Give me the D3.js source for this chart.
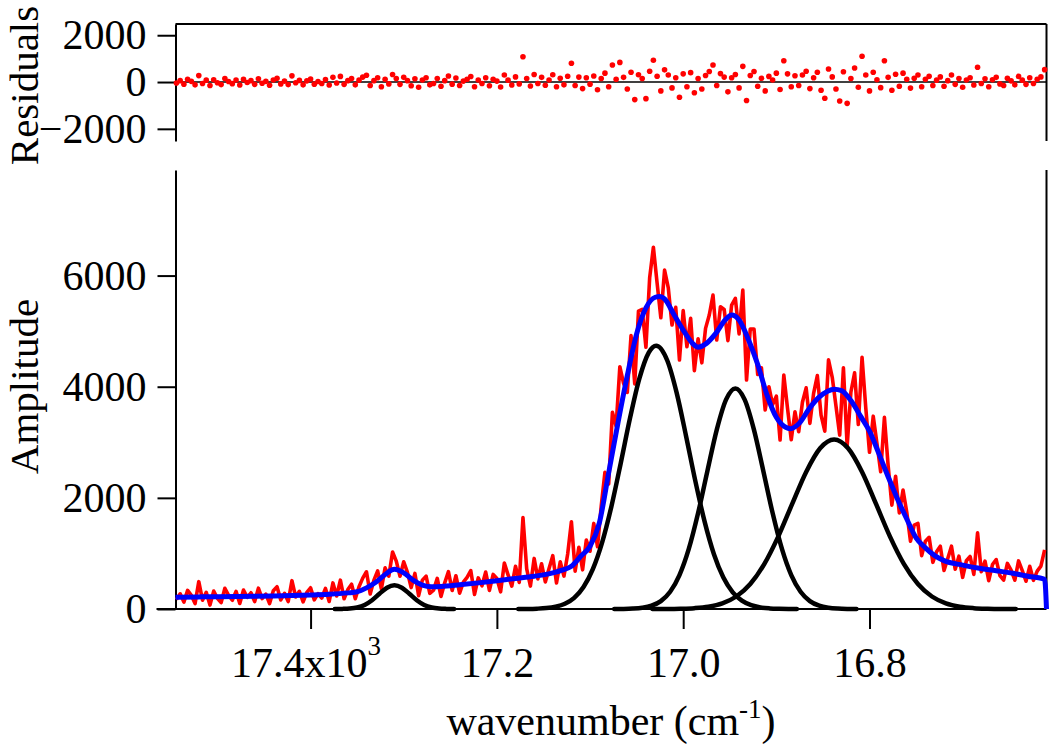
<!DOCTYPE html>
<html><head><meta charset="utf-8">
<script src="https://cdn.jsdelivr.net/npm/d3@7"></script>
<style>
html,body{margin:0;padding:0;background:#fff;}
svg{display:block;background:#fff;}
text{font-family:"Liberation Serif","Times New Roman",serif;fill:#000;}
</style></head><body>
<svg id="chart" width="1050" height="747"></svg>
<script>
// ---- data ----
const gridStart = 17544;   // cm^-1, first sample
const gridStep = 4;        // cm^-1 between samples (descending)

const amplitude = [
172,273,124,335,246,97,492,159,300,71,
322,193,114,373,246,157,318,99,342,211,
292,134,375,186,267,98,330,401,162,283,
134,510,216,318,129,300,382,164,276,198,
371,135,469,234,519,184,350,447,185,400,
555,670,270,520,685,360,740,590,1025,862,
590,850,660,385,640,240,520,592,282,339,
551,225,471,672,333,599,285,482,569,690,
263,560,418,666,334,622,550,308,826,614,
412,770,478,1646,724,412,910,542,814,486,
728,960,470,850,592,990,1570,680,1110,705,
1240,1040,1540,1120,1850,2460,2250,3540,3290,4360,
4060,3900,4920,4050,5360,5390,4710,5960,6510,5865,
5240,6100,5780,5110,5430,4480,5370,4720,5230,4290,
4862,4430,5050,5290,5650,4840,5440,5390,4830,5470,
5590,4950,5740,4120,5040,5040,4220,4340,3580,4000,
3680,3830,3040,4210,3610,3045,3550,3190,3720,3980,
3340,3880,4200,3490,3200,4485,4170,3655,3130,4340,
2930,3900,4250,3320,4530,3620,2820,3470,2980,2470,
3450,2580,1870,2390,1730,2140,1740,1220,1510,1540,
960,1220,1290,840,1030,1130,695,910,1130,715,
950,570,868,945,622,1370,670,860,510,800,
890,600,520,820,700,518,865,692,500,768,
516,682,770,1065];

const residuals = [
-40,60,-90,120,30,-120,274,-60,80,-150,
100,-30,-110,148,20,-70,90,-130,112,-20,
60,-100,140,-50,30,-140,90,160,-80,40,
-110,265,-30,70,-120,50,130,-90,20,-60,
110,-130,200,-40,240,-100,60,150,-120,80,
210,290,-150,60,180,-200,120,-80,320,150,
-100,200,60,-160,140,-220,90,180,-120,-60,
150,-180,60,255,-90,170,-150,40,120,234,
-200,90,-60,180,-160,120,40,-210,300,80,
-130,220,-80,1080,150,-170,320,-60,200,-140,
90,310,-200,160,-120,250,800,-150,210,-280,
180,-90,260,-330,150,380,-200,730,120,840,
200,-300,420,-750,310,150,-710,460,930,250,
-380,520,300,-250,180,-650,350,-200,400,-460,
150,-300,280,450,730,-150,360,210,-420,180,
320,-250,670,-790,280,450,-180,160,-380,240,
90,380,-320,910,350,-200,270,-150,300,460,
-280,180,420,-350,-690,560,220,-300,-810,440,
-910,150,600,-220,1100,300,-380,420,100,-240,
910,200,-350,330,-180,380,120,-260,160,300,
-200,120,250,-150,80,220,-180,60,300,-100,
150,-220,90,180,-130,630,-60,140,-200,100,
200,-80,-150,160,50,-120,240,80,-100,180,
-60,120,220,530];

const fitWavenumber = [
17545,17520,17500,17480,17460,17440,17420,17400,17380,17360,
17350,17340,17330,17320,17310,17300,17290,17280,17270,17260,
17240,17220,17200,17180,17160,17140,17130,17120,17110,17100,
17090,17080,17070,17060,17050,17040,17030,17025,17020,17010,
17000,16990,16984,16975,16965,16955,16948,16940,16930,16920,
16910,16900,16890,16885,16875,16865,16855,16845,16838,16830,
16820,16810,16800,16790,16780,16770,16760,16750,16740,16730,
16720,16700,16682,16664,16646,16630,16612,16610];
const fitAmplitude = [
212,218,222,226,230,236,244,252,265,290,
310,380,480,620,715,650,520,430,400,405,
435,470,510,550,590,650,700,770,950,1130,
1550,2450,3350,4200,4950,5420,5610,5625,5580,5300,
5020,4780,4712,4780,4960,5200,5290,5200,4850,4400,
3850,3450,3270,3245,3350,3600,3800,3920,3955,3930,
3750,3480,3200,2800,2380,1980,1620,1280,1100,960,
870,790,733,690,643,590,535,0];

const peak1Wavenumber = [17374,17366,17358,17350,17342,17334,17326,17318,17310,17302,17294,17286,17278,17270,17262,17254,17246];
const peak1Amplitude  = [0,2,8,27,73,158,274,382,427,382,274,158,73,27,8,2,0];

const peak2Wavenumber = [17177,17167,17157,17147,17137,17127,17117,17107,17097,17087,17077,17067,17057,17047,17037,17029,17017,17007,16997,16987,16977,16967,16957,16947,16937,16927,16917,16907,16897,16887,16878];
const peak2Amplitude  = [1,2,6,16,41,94,201,396,718,1200,1850,2628,3440,4150,4615,4738,4467,3889,3119,2306,1572,986,571,305,150,68,28,11,4,1,0];

const peak3Wavenumber = [17074,17064,17054,17044,17034,17024,17014,17004,16994,16984,16974,16964,16954,16944,16934,16924,16914,16904,16894,16884,16874,16864,16854,16844,16834,16824,16814];
const peak3Amplitude  = [1,2,7,22,59,142,310,610,1081,1727,2485,3224,3768,3969,3768,3224,2485,1727,1081,610,310,142,59,22,7,2,1];

const peak4Wavenumber = [17033,17018,17003,16988,16973,16958,16943,16928,16913,16898,16883,16868,16853,16838,16823,16808,16793,16778,16763,16748,16733,16718,16703,16688,16673,16658,16643];
const peak4Amplitude  = [0,1,5,15,41,102,225,450,808,1303,1891,2467,2893,3051,2893,2467,1891,1303,808,450,225,102,41,15,5,1,0];

const xTickValues = [17400, 17200, 17000, 16800];
const xTickLabels = ["17.4", "17.2", "17.0", "16.8"];
const ampTicks = [0, 2000, 4000, 6000];
const residTicks = [-2000, 0, 2000];

// ---- drawing ----
const wavenumber = amplitude.map((_, i) => gridStart - gridStep * i);
const svg = d3.select("#chart");

const L = 175.5, R = 1046.5;
const x = d3.scaleLinear().domain([17545, 16610]).range([L, R]);
const yA = d3.scaleLinear().domain([0, 7900]).range([609, 170]);
const yR = d3.scaleLinear().domain([-2520, 2480]).range([141, 24]);

const TICKFONT = 42, TITLEFONT = 41;

function styleAxis(g) {
  g.selectAll("path.domain").attr("stroke", "#000").attr("stroke-width", 2);
  g.selectAll(".tick line").attr("stroke", "#000").attr("stroke-width", 2);
  g.selectAll(".tick text").attr("font-size", TICKFONT)
    .attr("font-family", '"Liberation Serif","Times New Roman",serif').attr("fill", "#000");
}

// residual panel axes
const gRes = svg.append("g").attr("transform", `translate(${L},0)`)
  .call(d3.axisLeft(yR).tickValues(residTicks).tickSize(18).tickSizeOuter(0).tickPadding(11).tickFormat(d3.format("d")));
styleAxis(gRes);
svg.append("line").attr("x1", L).attr("x2", R).attr("y1", yR.range()[1]).attr("y2", yR.range()[1])
  .attr("stroke", "#000").attr("stroke-width", 2);
svg.append("line").attr("x1", R).attr("x2", R).attr("y1", yR.range()[1]).attr("y2", yR.range()[0])
  .attr("stroke", "#000").attr("stroke-width", 2);
svg.append("line").attr("x1", L).attr("x2", R).attr("y1", yR(0)).attr("y2", yR(0))
  .attr("stroke", "#000").attr("stroke-width", 1.6);

// main panel axes
const gAmp = svg.append("g").attr("transform", `translate(${L},0)`)
  .call(d3.axisLeft(yA).tickValues(ampTicks).tickSize(18).tickSizeOuter(0).tickPadding(11).tickFormat(d3.format("d")));
styleAxis(gAmp);
svg.append("line").attr("x1", R).attr("x2", R).attr("y1", yA.range()[1]).attr("y2", yA.range()[0])
  .attr("stroke", "#000").attr("stroke-width", 2);

const gX = svg.append("g").attr("transform", `translate(0,${yA(0)})`)
  .call(d3.axisBottom(x).tickValues(xTickValues).tickSize(20).tickSizeOuter(0)
    .tickFormat((d, i) => xTickLabels[i]));
styleAxis(gX);
gX.select("path.domain").remove();
gX.append("line").attr("x1", L - 19).attr("x2", R).attr("y1", 0).attr("y2", 0)
  .attr("stroke", "#000").attr("stroke-width", 2);
gX.selectAll(".tick text").attr("y", 68).attr("dy", null);
// first label carries the x10^3 multiplier
gX.selectAll(".tick text").filter((d, i) => i === 0).each(function() {
  const t = d3.select(this);
  t.text(null).attr("x", -5);
  t.append("tspan").text("17.4x10");
  t.append("tspan").attr("font-size", 27).attr("dy", -22).text("3");
});

// axis titles
svg.append("text").attr("transform", `translate(38,${(yR.range()[0] + yR.range()[1]) / 2 + 3}) rotate(-90)`)
  .attr("text-anchor", "middle").attr("font-size", TITLEFONT).text("Residuals");
svg.append("text").attr("transform", `translate(38,${(yA.range()[0] + yA.range()[1]) / 2 - 3}) rotate(-90)`)
  .attr("text-anchor", "middle").attr("font-size", TITLEFONT).text("Amplitude");
const xt = svg.append("text").attr("x", (L + R) / 2).attr("y", 735)
  .attr("text-anchor", "middle").attr("font-size", TITLEFONT + 1);
xt.append("tspan").text("wavenumber (cm");
xt.append("tspan").attr("font-size", 27).attr("dy", -17).text("-1");
xt.append("tspan").attr("dy", 17).text(")");

// residual dots
svg.append("g").selectAll("circle").data(residuals).join("circle")
  .attr("cx", (d, i) => x(wavenumber[i])).attr("cy", d => yR(d))
  .attr("r", 2.8).attr("fill", "#ff0000");

// data line
const lineA = d3.line().x(d => x(d[0])).y(d => yA(d[1]));
svg.append("path").datum(wavenumber.map((w, i) => [w, amplitude[i]]))
  .attr("d", lineA).attr("fill", "none").attr("stroke", "#ff0000")
  .attr("stroke-width", 3.6).attr("stroke-linejoin", "round");

// component peaks
const smooth = d3.line().x(d => x(d[0])).y(d => yA(d[1])).curve(d3.curveMonotoneX);
[[peak1Wavenumber, peak1Amplitude], [peak2Wavenumber, peak2Amplitude],
 [peak3Wavenumber, peak3Amplitude], [peak4Wavenumber, peak4Amplitude]].forEach(([w, a]) => {
  svg.append("path").datum(w.map((v, i) => [v, a[i]]))
    .attr("d", smooth).attr("fill", "none").attr("stroke", "#000")
    .attr("stroke-width", 4.5).attr("stroke-linecap", "round");
});

// fit
svg.append("path").datum(fitWavenumber.map((w, i) => [w, fitAmplitude[i]]))
  .attr("d", smooth).attr("fill", "none").attr("stroke", "#0000ff")
  .attr("stroke-width", 5).attr("stroke-linejoin", "round");
</script>
</body></html>
